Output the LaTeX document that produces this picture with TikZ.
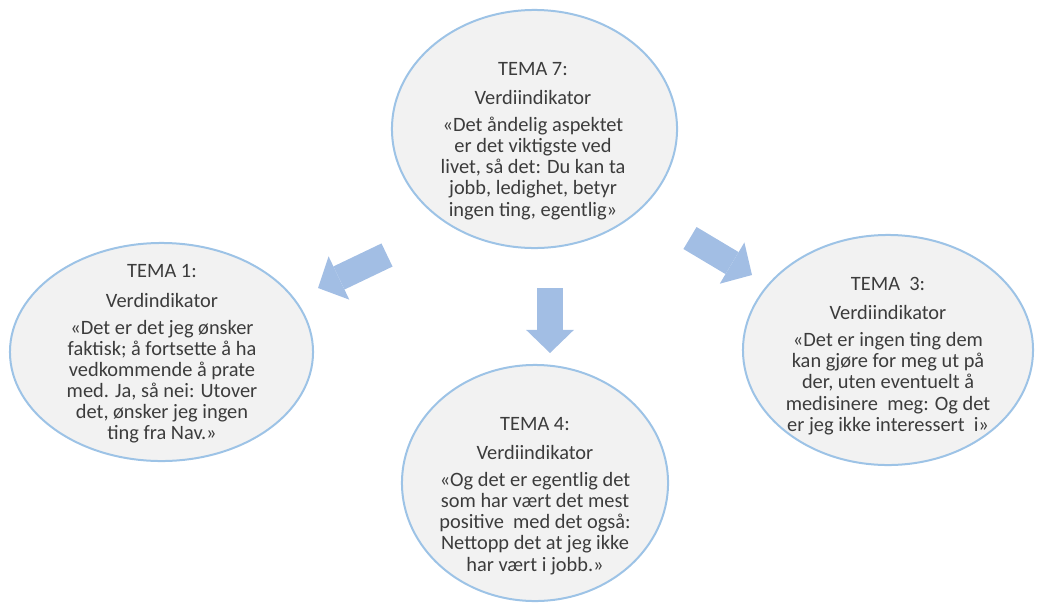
\documentclass[tikz,border=0pt]{standalone}
\usepackage{fontspec}
\setmainfont{Carlito}
\usetikzlibrary{shapes.geometric}
\usetikzlibrary{arrows.meta}
\usetikzlibrary{positioning}

\definecolor{bubblefill}{RGB}{242,242,242}
\definecolor{bubbleline}{RGB}{157,195,230}
\definecolor{arrowblue}{RGB}{162,190,228}
\definecolor{textgray}{RGB}{60,60,60}

\tikzset {
  % theme bubble
  tema/.style = {
    ellipse,
    draw = bubbleline,
    fill = bubblefill,
    line width = 0.05cm,
    inner sep = 0
  },
  % text inside a bubble
  quote/.style = {
    align = center,
    inner sep = 0,
    text = textgray,
    font = \fontsize{14.5pt}{15pt}\selectfont
  }
}
\tikzset {
  % fat block arrow between bubbles
  bigarr/.style = {
    draw = arrowblue,
    line width = 0.64cm,
    line cap = butt,
    -{Triangle[width = 1.2cm, length = 0.58cm, line width = 0pt]}
  }
}

\begin{document}
\begin{tikzpicture}[x=0.025cm, y=-0.025cm]
    \useasboundingbox (0,0) rectangle (1038,605);

    % bubbles
    \node[tema, minimum width=7.125cm, minimum height=5.95cm] (t7) at (534.5,129) {};
    \node[tema, minimum width=7.575cm, minimum height=5.45cm] (t1) at (161.5,352) {};
    \node[tema, minimum width=6.65cm, minimum height=5.9cm] (t4) at (535,483) {};
    \node[tema, minimum width=7.25cm, minimum height=5.75cm] (t3) at (888,350) {};

    % texts
    \node[quote] (t7-text) at (533,141) {TEMA 7:\\[0.2cm]
      Verdiindikator\\[0.15cm]
      «Det åndelig aspektet\\
      er det viktigste ved\\
      livet, så det: Du kan ta\\
      jobb, ledighet, betyr\\
      ingen ting, egentlig»};

    \node[quote] (t1-text) at (162,354) {TEMA 1:\\[0.2cm]
      Verdindikator\\[0.15cm]
      «Det er det jeg ønsker\\
      faktisk; å fortsette å ha\\
      vedkommende å prate\\
      med. Ja, så nei: Utover\\
      det, ønsker jeg ingen\\
      ting fra Nav.»};

    \node[quote] (t4-text) at (535,496) {TEMA 4:\\[0.2cm]
      Verdiindikator\\[0.15cm]
      «Og det er egentlig det\\
      som har vært det mest\\
      positive~~med det også:\\
      Nettopp det at jeg ikke\\
      har vært i jobb.»};

    \node[quote] (t3-text) at (888,356) {TEMA~~3:\\[0.2cm]
      Verdiindikator\\[0.15cm]
      «Det er ingen ting dem\\
      kan gjøre for meg ut på\\
      der, uten eventuelt å\\
      medisinere~~meg: Og det\\
      er jeg ikke interessert~~i»};

    % arrow ends
    \coordinate (a1-start) at (387,255);
    \coordinate (a1-end) at (318,288);
    \coordinate (a4-start) at (550,288);
    \coordinate (a4-end) at (550,353);
    \coordinate (a3-start) at (690,238);
    \coordinate (a3-end) at (752,275);

    % arrows
    \draw[bigarr] (a1-start) -- (a1-end);
    \draw[bigarr] (a4-start) -- (a4-end);
    \draw[bigarr] (a3-start) -- (a3-end);
\end{tikzpicture}
\end{document}
